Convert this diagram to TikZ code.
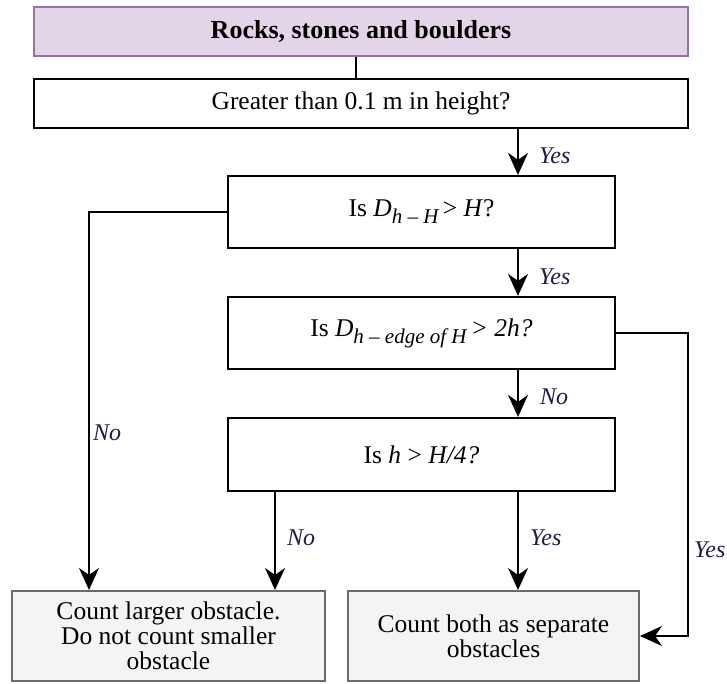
\documentclass[tikz,border=0pt]{standalone}
\usepackage{fontspec}
\setmainfont{Liberation Serif}
\usetikzlibrary{arrows.meta}

\definecolor{titlefill}{HTML}{E1D5E7}
\definecolor{titleline}{HTML}{9673A6}
\definecolor{endfill}{HTML}{F4F4F4}
\definecolor{endline}{HTML}{6A6A6A}
\definecolor{labelink}{HTML}{1E1A4A}

% lowered italic subscript used in the decision texts
\newcommand\lowsub[1]{\raisebox{-7pt}{\fontsize{21}{21}\selectfont\itshape #1}}

\begin{document}
\begin{tikzpicture}[x=1pt,y=-1pt,
  boxbase/.style={inner sep=0pt, align=center, font=\fontsize{25.5}{25}\selectfont},
  titlebox/.style={boxbase, draw=titleline, fill=titlefill, line width=2.2pt, font=\fontsize{26}{26}\selectfont\bfseries},
  askbox/.style={boxbase, draw=black, fill=white, line width=2.2pt},
  endbox/.style={boxbase, draw=endline, fill=endfill, line width=2pt},
  link/.style={draw=black, line width=2pt},
  arr/.style={link, -{Stealth[length=22pt,width=20pt,inset=7pt]}},
  lab/.style={anchor=west, inner sep=0pt, text=labelink, font=\fontsize{24}{24}\selectfont\itshape}
]
\useasboundingbox (0,0) rectangle (727,684);

% boxes
\node[titlebox, minimum width=654pt, minimum height=49pt] (title) at (361,31.5) {Rocks, stones and boulders};
\node[askbox, minimum width=654pt, minimum height=49pt] (q0) at (361,103.5) {Greater than 0.1 m in height?};
\node[askbox, minimum width=387pt, minimum height=72pt] (q1) at (421.5,212) {Is \textit{D}\lowsub{h – H}\,> \textit{H}?};
\node[askbox, minimum width=387pt, minimum height=72pt] (q2) at (421.5,333) {Is \textit{D}\lowsub{h – edge of H}\,\textit{> 2h?}};
\node[askbox, minimum width=387pt, minimum height=73pt] (q3) at (421.5,454.5) {Is \textit{h} > \textit{H/4?}};
\node[endbox, minimum width=313pt, minimum height=90pt] (r1) at (168.5,636) {Count larger obstacle.\\Do not count smaller\\obstacle};
\node[endbox, minimum width=291pt, minimum height=90pt] (r2) at (493.5,636) {Count both as separate\\obstacles};

% vertical lanes of the connectors
\coordinate (tx) at (356,0);
\coordinate (mx) at (518,0);
\coordinate (lx) at (89,0);
\coordinate (bx) at (275,0);
\coordinate (rx) at (688,0);

% connectors
\draw[link] (title.south -| tx) -- (q0.north -| tx);
\draw[arr] (q0.south -| mx) -- (q1.north -| mx);
\draw[arr] (q1.south -| mx) -- (q2.north -| mx);
\draw[arr] (q2.south -| mx) -- (q3.north -| mx);
\draw[arr] (q1.west) -| (r1.north -| lx);
\draw[arr] (q3.south -| bx) -- (r1.north -| bx);
\draw[arr] (q3.south -| mx) -- (r2.north -| mx);
\draw[arr] (q2.east) -| (rx |- r2.east) -- (r2.east);

% connector labels
\node[lab] (l1) at (539,156) {Yes};
\node[lab] (l2) at (539,277) {Yes};
\node[lab] (l3) at (540,397) {No};
\node[lab] (l4) at (93,433) {No};
\node[lab] (l5) at (287,538) {No};
\node[lab] (l6) at (530,538) {Yes};
\node[lab] (l7) at (694,550) {Yes};
\end{tikzpicture}
\end{document}
